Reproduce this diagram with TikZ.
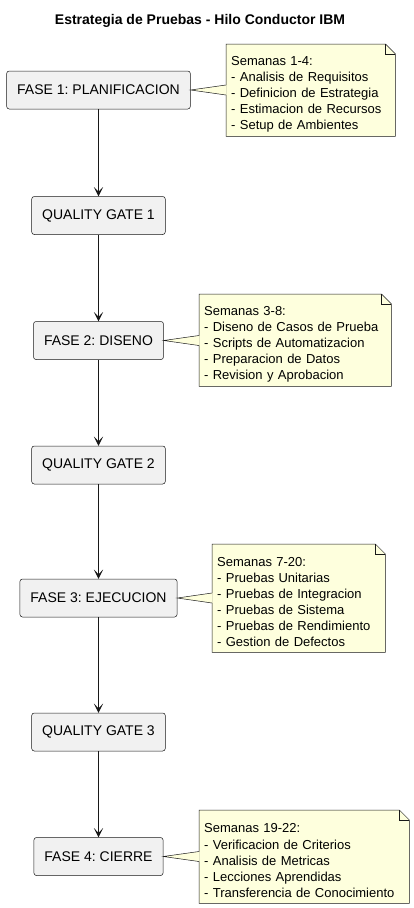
\documentclass[tikz,border=0pt]{standalone}
\usepackage{fontspec}
\setmainfont{Liberation Sans}
\usepackage{tikz}
\usetikzlibrary{arrows.meta,backgrounds}
\frenchspacing

\definecolor{boxfill}{HTML}{F1F1F1}
\definecolor{lineclr}{HTML}{181818}
\definecolor{notefill}{HTML}{FEFFDD}

\tikzset{
  fase/.style={draw=lineclr, fill=boxfill, rounded corners=2.5pt, line width=0.5pt,
    minimum height=38pt, inner xsep=10.5pt, font=\fontsize{14}{16}\selectfont},
  nota/.style={anchor=north west, align=left, inner xsep=5pt, inner ysep=0pt,
    font=\fontsize{13}{16.1}\selectfont},
  flecha/.style={-{Stealth[length=9pt,width=9pt,inset=4.5pt]}, line width=1pt, draw=lineclr},
  pliego/.style={draw=lineclr, fill=notefill, line width=0.5pt},
}

% folded note outline (top edge 8pt above the text node)
\newcommand{\doblez}[1]{%
  \begin{scope}[on background layer]
    \draw[pliego] ([yshift=8pt]#1.north west) -- ([xshift=-10pt,yshift=8pt]#1.north east)
      -- ([yshift=-2pt]#1.north east) -- (#1.south east) -- (#1.south west) -- cycle;
    \draw[lineclr, line width=0.5pt] ([xshift=-10pt,yshift=8pt]#1.north east)
      -- ([xshift=-10pt,yshift=-2pt]#1.north east) -- ([yshift=-2pt]#1.north east);
  \end{scope}}

% wedge from box to note
\newcommand{\pico}[2]{%
  \coordinate (#2w) at (#2.west |- #1.east);
  \fill[notefill] ([xshift=0.6pt,yshift=5pt]#2w) -- (#1.east) -- ([xshift=0.6pt,yshift=-5pt]#2w) -- cycle;
  \draw[lineclr, line width=0.5pt] ([yshift=5pt]#2w) -- (#1.east) -- ([yshift=-5pt]#2w);}

\begin{document}
\begin{tikzpicture}[x=1pt,y=-1pt]
\useasboundingbox (0,0) rectangle (414,908);

\node[font=\bfseries\fontsize{14}{16}\selectfont] (titulo) at (200,21) {Estrategia de Pruebas - Hilo Conductor IBM};

  \node[fase] (f1) at (98.5,90)    {FASE 1: PLANIFICACION};
  \node[fase] (q1) at (98.5,215.5) {QUALITY GATE 1};
  \node[fase] (f2) at (98.5,340.5) {FASE 2: DISENO};
  \node[fase] (q2) at (98.5,465)   {QUALITY GATE 2};
  \node[fase] (f3) at (98.5,598)   {FASE 3: EJECUCION};
  \node[fase] (q3) at (98.5,732)   {QUALITY GATE 3};
  \node[fase] (f4) at (98.5,856.5) {FASE 4: CIERRE};

  \node[nota, text width=159pt, minimum height=84pt] (n1) at (226,52)
    {Semanas 1-4:\\- Analisis de Requisitos\\- Definicion de Estrategia\\- Estimacion de Recursos\\- Setup de Ambientes};
  \node[nota, text width=182pt, minimum height=84pt] (n2) at (199,302)
    {Semanas 3-8:\\- Diseno de Casos de Prueba\\- Scripts de Automatizacion\\- Preparacion de Datos\\- Revision y Aprobacion};
  \node[nota, text width=163pt, minimum height=100pt] (n3) at (212,552)
    {Semanas 7-20:\\- Pruebas Unitarias\\- Pruebas de Integracion\\- Pruebas de Sistema\\- Pruebas de Rendimiento\\- Gestion de Defectos};
  \node[nota, text width=200pt, minimum height=85pt] (n4) at (199,818)
    {Semanas 19-22:\\- Verificacion de Criterios\\- Analisis de Metricas\\- Lecciones Aprendidas\\- Transferencia de Conocimiento};

  \doblez{n1} \doblez{n2} \doblez{n3} \doblez{n4}
  \pico{f1}{n1} \pico{f2}{n2} \pico{f3}{n3} \pico{f4}{n4}

  \draw[flecha] (f1) -- (q1);
  \draw[flecha] (q1) -- (f2);
  \draw[flecha] (f2) -- (q2);
  \draw[flecha] (q2) -- (f3);
  \draw[flecha] (f3) -- (q3);
  \draw[flecha] (q3) -- (f4);
\end{tikzpicture}
\end{document}
